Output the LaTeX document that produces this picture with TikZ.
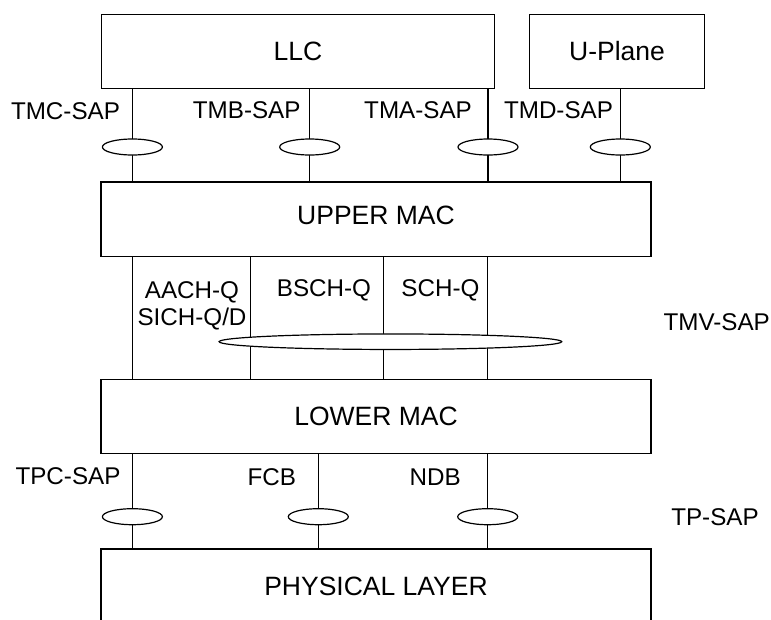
\documentclass[tikz,border=0pt]{standalone}
\usepackage{fontspec}
\setmainfont{Liberation Sans}
\usetikzlibrary{shapes.geometric}
\begin{document}
\begin{tikzpicture}[x=1pt,y=-1pt,
  layerbox/.style={draw,line width=1.4pt,rectangle,inner sep=0pt,minimum height=74pt,
     font=\fontsize{26.5}{30}\selectfont},
  sap/.style={draw,line width=1.2pt,fill=white,ellipse,inner sep=0pt,minimum width=60pt,minimum height=16pt},
  link/.style={line width=1.2pt},
  lbl/.style={inner sep=0pt,font=\fontsize{24.2}{26.7}\selectfont}]
\useasboundingbox (0,0) rectangle (771,619);
\clip (0,0) rectangle (771,619);
% layers
\node[layerbox,minimum width=393pt] (llc) at (298,51.5) {LLC};
\node[layerbox,minimum width=174.5pt] (uplane) at (617,51.5) {U-Plane};
\node[layerbox,minimum width=550pt,minimum height=74.5pt] (upper) at (376,219.3) {};
\node[inner sep=0pt,font=\fontsize{26.5}{30}\selectfont] (uppert) at (376,215) {UPPER MAC};
\node[layerbox,minimum width=550pt,minimum height=74.5pt] (lower) at (376,416.5) {LOWER MAC};
\node[layerbox,minimum width=550pt] (phy) at (376,586) {PHYSICAL LAYER};
% column positions
\coordinate (a1) at (132.4,0);
\coordinate (a2) at (309.7,0);
\coordinate (a3) at (488,0);
\coordinate (a4) at (620.3,0);
\coordinate (b1) at (132.2,0);
\coordinate (b2) at (250.8,0);
\coordinate (b3) at (383.7,0);
\coordinate (b4) at (487.7,0);
\coordinate (c1) at (132.4,0);
\coordinate (c2) at (318.3,0);
\coordinate (c3) at (487.7,0);
% connectors
\draw[link] (llc.south -| a1) -- (upper.north -| a1);
\draw[link] (llc.south -| a2) -- (upper.north -| a2);
\draw[link] (llc.south -| a3) -- (upper.north -| a3);
\draw[link] (uplane.south -| a4) -- (upper.north -| a4);
\draw[link] (upper.south -| b1) -- (lower.north -| b1);
\draw[link] (upper.south -| b2) -- (lower.north -| b2);
\draw[link] (upper.south -| b3) -- (lower.north -| b3);
\draw[link] (upper.south -| b4) -- (lower.north -| b4);
\draw[link] (lower.south -| c1) -- (phy.north -| c1);
\draw[link] (lower.south -| c2) -- (phy.north -| c2);
\draw[link] (lower.south -| c3) -- (phy.north -| c3);
% service access points
\node[sap] (e1) at (132.4,147) {};
\node[sap] (e2) at (309.7,147) {};
\node[sap] (e3) at (488,147) {};
\node[sap] (e4) at (620.3,147) {};
\node[sap,minimum width=342.6pt,minimum height=15.5pt] (eb) at (390.4,341.7) {};
\node[sap] (p1) at (132.4,516.7) {};
\node[sap] (p2) at (318.3,516.7) {};
\node[sap] (p3) at (487.7,516.7) {};
% labels
\node[lbl] (tmc) at (65.5,111) {TMC-SAP};
\node[lbl] (tmb) at (246.7,110) {TMB-SAP};
\node[lbl] (tma) at (418,110) {TMA-SAP};
\node[lbl] (tmd) at (558.5,110) {TMD-SAP};
\node[lbl,align=center,anchor=north] (aach) at (192,281.4) {AACH-Q\\SICH-Q/D};
\node[lbl] (bsch) at (324,290) {BSCH-Q};
\node[lbl] (sch) at (440.4,290) {SCH-Q};
\node[lbl] (tmv) at (716.7,322) {TMV-SAP};
\node[lbl] (tpc) at (68,476) {TPC-SAP};
\node[lbl] (fcb) at (271.7,476.7) {FCB};
\node[lbl] (ndb) at (435.2,476.7) {NDB};
\node[lbl] (tp) at (715,516.7) {TP-SAP};
\end{tikzpicture}
\end{document}
